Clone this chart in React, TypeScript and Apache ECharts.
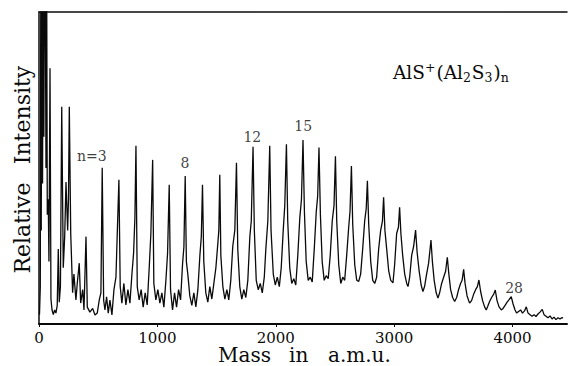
import React, { useEffect, useRef } from "react";
import * as echarts from "echarts";

// Mass spectrum of AlS+(Al2S3)n clusters as [mass (a.m.u.), relative intensity (%)]
const lowMassSpectrum: [number, number][] = [
  [4, 3], [11, 12], [15, 110], [19, 30], [24, 110], [30, 45], [35, 110], [41, 60], [46, 110],
  [53, 110], [59, 50], [65, 110], [70, 35], [78, 40], [84, 20], [93, 82], [101, 8], [110, 4.5],
  [121, 3], [132, 4.5], [143, 3.5], [154, 6], [163, 24], [171, 7], [181, 12], [192, 69.6],
  [205, 18], [217, 28], [228, 45.5], [242, 30], [249, 40], [256, 69.6], [268, 29], [284, 10],
  [295, 16], [312, 7.7], [323, 13], [340, 19.5], [352, 6.7], [369, 11], [380, 4.5], [397, 28],
  [408, 5.4], [430, 3.8], [453, 5], [473, 2.9], [492, 3.5], [509, 7.7], [523, 10], [534, 50.1],
  [546, 7.7], [557, 4.5], [571, 8.7], [585, 3.5], [599, 7.7], [616, 2.9], [633, 11], [650, 15],
  [661, 29], [675, 46.2], [686, 12], [700, 6.7], [717, 13], [734, 6.1], [751, 11], [768, 6.7],
  [785, 16], [799, 22.7], [810, 34], [819, 57.1], [830, 12], [846, 7.7], [863, 11], [880, 5.4],
  [897, 10], [914, 6.1], [931, 18], [945, 29], [960, 52.6], [970, 13], [987, 7.7], [1004, 11],
  [1021, 6.7], [1038, 10], [1055, 5.4], [1072, 14], [1086, 22.7], [1100, 44.6], [1111, 11],
  [1128, 4.5], [1145, 10], [1162, 5.4], [1179, 11], [1196, 7.7], [1213, 19.5], [1224, 24.7],
  [1235, 47.4],
];

const midMassSpectrum: [number, number][] = [
  [1245, 20], [1257, 16], [1274, 9], [1291, 6], [1308, 10], [1325, 5.5], [1342, 11], [1359, 22],
  [1371, 28], [1381, 44.6], [1392, 20], [1409, 10], [1426, 7], [1443, 12], [1460, 8], [1477, 13],
  [1494, 18], [1511, 26], [1519, 30], [1527, 47.8], [1536, 22], [1553, 12], [1570, 8], [1587, 11],
  [1603, 7.7], [1620, 14], [1637, 25], [1654, 30], [1668, 51.7], [1679, 24], [1696, 12], [1713, 8],
  [1730, 11], [1747, 8.5], [1764, 14], [1781, 28], [1793, 33], [1808, 56.8], [1819, 30], [1835, 14],
  [1852, 11], [1869, 13], [1886, 10], [1903, 15], [1916, 24], [1933, 33], [1949, 57.1], [1960, 30],
  [1979, 16], [1996, 12.5], [2013, 15], [2030, 12], [2046, 18], [2063, 30], [2076, 38], [2090, 57.6],
  [2101, 33], [2118, 18], [2135, 13], [2152, 14.5], [2169, 12.5], [2186, 22], [2203, 34], [2217, 40],
  [2230, 59], [2242, 36], [2257, 20], [2274, 14], [2291, 15], [2308, 13.5], [2325, 24], [2342, 36],
  [2354, 41], [2365, 56.6], [2377, 35], [2392, 20], [2409, 14], [2426, 15.5], [2443, 14.5], [2460, 22],
  [2477, 33], [2492, 38], [2504, 53.8], [2515, 33], [2532, 19], [2549, 13], [2566, 15], [2582, 14],
  [2599, 22], [2616, 31], [2627, 36], [2639, 50.6], [2650, 32], [2667, 19], [2684, 14], [2700, 13.6],
  [2717, 16], [2734, 24], [2751, 33], [2764, 37], [2774, 45.9], [2785, 32], [2802, 20], [2819, 14],
];

const highMassSpectrum: [number, number][] = [
  [2836, 13], [2852, 15], [2869, 24], [2886, 30], [2901, 33], [2911, 40.6], [2922, 30], [2937, 24],
  [2954, 17], [2971, 14], [2990, 13.2], [3004, 19], [3021, 29], [3036, 31], [3046, 37.4], [3057, 29],
  [3072, 22], [3089, 16], [3106, 13], [3117, 12], [3131, 15], [3148, 22], [3165, 25], [3181, 30.1],
  [3194, 23], [3211, 17], [3228, 12.5], [3243, 10.4], [3257, 12], [3274, 16], [3291, 19.5],
  [3311, 26.9], [3323, 20], [3338, 14], [3355, 10], [3370, 8.3], [3384, 10], [3401, 13], [3418, 15],
  [3435, 17], [3449, 21.4], [3462, 16], [3477, 11], [3494, 8.5], [3511, 7.2], [3528, 8.5], [3544, 11],
  [3561, 13], [3574, 14], [3587, 17.5], [3599, 13], [3616, 9], [3637, 6.7], [3654, 7.5], [3671, 9.5],
  [3688, 11], [3703, 12], [3716, 14.1], [3730, 10.5], [3747, 7.5], [3764, 5.5], [3778, 4.5],
  [3789, 5.5], [3806, 7.2], [3823, 8.5], [3840, 9.5], [3854, 10.9], [3869, 7.5], [3886, 5.5],
  [3905, 4.5], [3920, 5], [3937, 6], [3954, 7], [3971, 7.8], [3989, 8.8], [4004, 6.5], [4021, 4.5],
  [4034, 3.5], [4051, 4], [4068, 4.5], [4084, 3.5], [4101, 4.2], [4116, 5.5], [4131, 3.5], [4148, 3],
  [4165, 2.5], [4182, 3], [4198, 2.4], [4215, 3.2], [4232, 3.8], [4251, 4.7], [4266, 3], [4283, 2.5],
  [4300, 2], [4317, 2.6], [4334, 1.6], [4350, 2.2], [4367, 1.4], [4384, 2], [4401, 1.6], [4418, 2.1],
  [4425, 1.8],
];

// Cluster-size labels placed above their peaks
const peakLabels = ["n=3", "8", "12", "15", "28"];
const peakLabelMass = [447, 1232, 1802, 2232, 4013];
const peakLabelIntensity = [53.8, 51.6, 59.9, 63.6, 11.4];

const xTickValues = [0, 1000, 2000, 3000, 4000];
const xMin = 0;
const xMax = 4460;

const SERIF = "'DejaVu Serif', 'Liberation Serif', serif";
const INK = "#0a0a0a";

export default function App() {
  const ref = useRef<HTMLDivElement>(null);

  useEffect(() => {
    if (!ref.current) return;
    const chart = echarts.init(ref.current, null, { renderer: "svg" });
    const spectrum = [...lowMassSpectrum, ...midMassSpectrum, ...highMassSpectrum];

    const word = (text: string, x: number, y: number, size: number, rotation = 0, align = "left") => ({
      type: "text",
      x,
      y,
      rotation,
      style: {
        text,
        fill: INK,
        font: `${size}px ${SERIF}`,
        align,
        verticalAlign: "middle",
        lineHeight: size,
      },
    });

    chart.setOption({
      animation: false,
      backgroundColor: "#ffffff",
      grid: { left: 39, right: 3, top: 12, bottom: 42, containLabel: false },
      xAxis: [
        {
          type: "value",
          min: xMin,
          max: xMax,
          interval: 1000,
          position: "bottom",
          axisLine: { show: true, onZero: false, lineStyle: { color: INK, width: 2 } },
          axisTick: { show: true, length: 3, lineStyle: { color: INK, width: 1 } },
          axisLabel: {
            show: true,
            margin: 6,
            color: INK,
            fontFamily: SERIF,
            fontSize: 15,
            lineHeight: 15,
            showMaxLabel: false,
            formatter: (v: number) => (xTickValues.includes(v) ? String(v) : ""),
          },
          splitLine: { show: false },
        },
        {
          type: "value",
          min: xMin,
          max: xMax,
          position: "top",
          axisLine: { show: true, onZero: false, lineStyle: { color: INK, width: 1.5 } },
          axisTick: { show: false },
          axisLabel: { show: false },
          splitLine: { show: false },
        },
      ],
      yAxis: {
        type: "value",
        min: 0,
        max: 100,
        axisLine: { show: true, onZero: false, lineStyle: { color: INK, width: 1.5 } },
        axisTick: { show: false },
        axisLabel: { show: false },
        splitLine: { show: false },
      },
      series: [
        {
          type: "line",
          data: spectrum,
          showSymbol: false,
          symbol: "none",
          clip: true,
          lineStyle: { color: INK, width: 1.3 },
          z: 3,
        },
        {
          type: "scatter",
          data: peakLabels.map((t, i) => ({
            value: [peakLabelMass[i], peakLabelIntensity[i]],
            label: { formatter: t },
          })),
          symbolSize: 1,
          itemStyle: { color: "rgba(0,0,0,0)" },
          label: {
            show: true,
            position: "inside",
            color: INK,
            fontFamily: SERIF,
            fontSize: 14,
          },
          z: 4,
        },
      ],
      graphic: [
        // x-axis title, word by word as spaced in the reference
        word("Mass", 218, 355, 20),
        word("in", 289, 355, 20),
        word("a.m.u.", 328, 355, 20),
        // y-axis title, rotated
        word("Intensity", 22, 115, 22, Math.PI / 2, "center"),
        word("Relative", 22, 228, 22, Math.PI / 2, "center"),
        {
          type: "text",
          x: 393,
          y: 72,
          style: {
            text: "{m|AlS}{sup|+}{m|(Al}{sub|2}{m|S}{sub|3}{m|)}{sub|n}",
            fill: INK,
            verticalAlign: "middle",
            align: "left",
            rich: {
              m: { fontFamily: SERIF, fontSize: 18.5, fill: INK, verticalAlign: "middle" },
              sup: { fontFamily: SERIF, fontSize: 12.5, fill: INK, verticalAlign: "top", padding: [0, 1, 10, 0] },
              sub: { fontFamily: SERIF, fontSize: 12.5, fill: INK, verticalAlign: "bottom", padding: [8, 1, 0, 0] },
            },
          },
        },
      ],
    });

    return () => chart.dispose();
  }, []);

  return <div ref={ref} style={{ width: 570, height: 366, position: "absolute", left: 0, top: 0 }} />;
}
